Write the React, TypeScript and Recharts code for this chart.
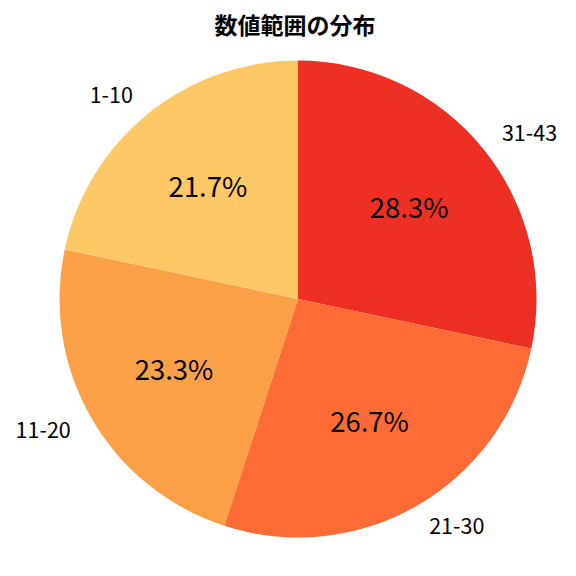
import React from "react";
import { PieChart, Pie, Cell } from "recharts";

const categories = ["31-43", "21-30", "11-20", "1-10"];
const counts = [17, 16, 14, 13];
const colors = ["#EE3024", "#FE6B35", "#FCA048", "#FEC866"];

const data = categories.map((name, i) => ({ name, value: counts[i] }));
const total = counts.reduce((a, b) => a + b, 0);

const FONT = "'Noto Sans CJK JP', 'Noto Sans', sans-serif";
const RAD = Math.PI / 180;

const renderLabel = (props: any) => {
  const { cx, cy, midAngle, outerRadius, index } = props;
  const cos = Math.cos(-midAngle * RAD);
  const sin = Math.sin(-midAngle * RAD);
  const lx = cx + outerRadius * 1.1 * cos;
  const ly = cy + outerRadius * 1.1 * sin;
  const px = cx + outerRadius * 0.6 * cos;
  const py = cy + outerRadius * 0.6 * sin;
  const pct = ((counts[index] / total) * 100).toFixed(1) + "%";
  return (
    <g>
      <text
        x={lx}
        y={ly - 2}
        textAnchor={lx >= cx ? "start" : "end"}
        dominantBaseline="central"
        fontSize={21.5}
        fontFamily={FONT}
        fill="#000"
      >
        {categories[index]}
      </text>
      <text
        x={px}
        y={py - 2.5}
        textAnchor="middle"
        dominantBaseline="central"
        fontSize={27.5}
        fontFamily={FONT}
        fill="#000"
      >
        {pct}
      </text>
    </g>
  );
};

export default function App() {
  return (
    <div style={{ position: "fixed", left: 0, top: 0, width: 576, height: 576, background: "#fff" }}>
      <div
        style={{
          position: "absolute",
          left: 0,
          top: 8,
          width: 590,
          textAlign: "center",
          fontFamily: FONT,
          fontWeight: 700,
          fontSize: 23,
          lineHeight: "32px",
          color: "#000",
        }}
      >
        数値範囲の分布
      </div>
      <PieChart
        width={576}
        height={576}
        margin={{ top: 0, right: 0, bottom: 0, left: 0 }}
        style={{ position: "absolute", left: 0, top: 0 }}
      >
        <Pie
          data={data}
          dataKey="value"
          nameKey="name"
          cx={298}
          cy={299}
          outerRadius={238.5}
          startAngle={90}
          endAngle={-270}
          stroke="none"
          label={renderLabel}
          labelLine={false}
          isAnimationActive={false}
        >
          {data.map((d, i) => (
            <Cell key={d.name} fill={colors[i]} />
          ))}
        </Pie>
      </PieChart>
    </div>
  );
}
